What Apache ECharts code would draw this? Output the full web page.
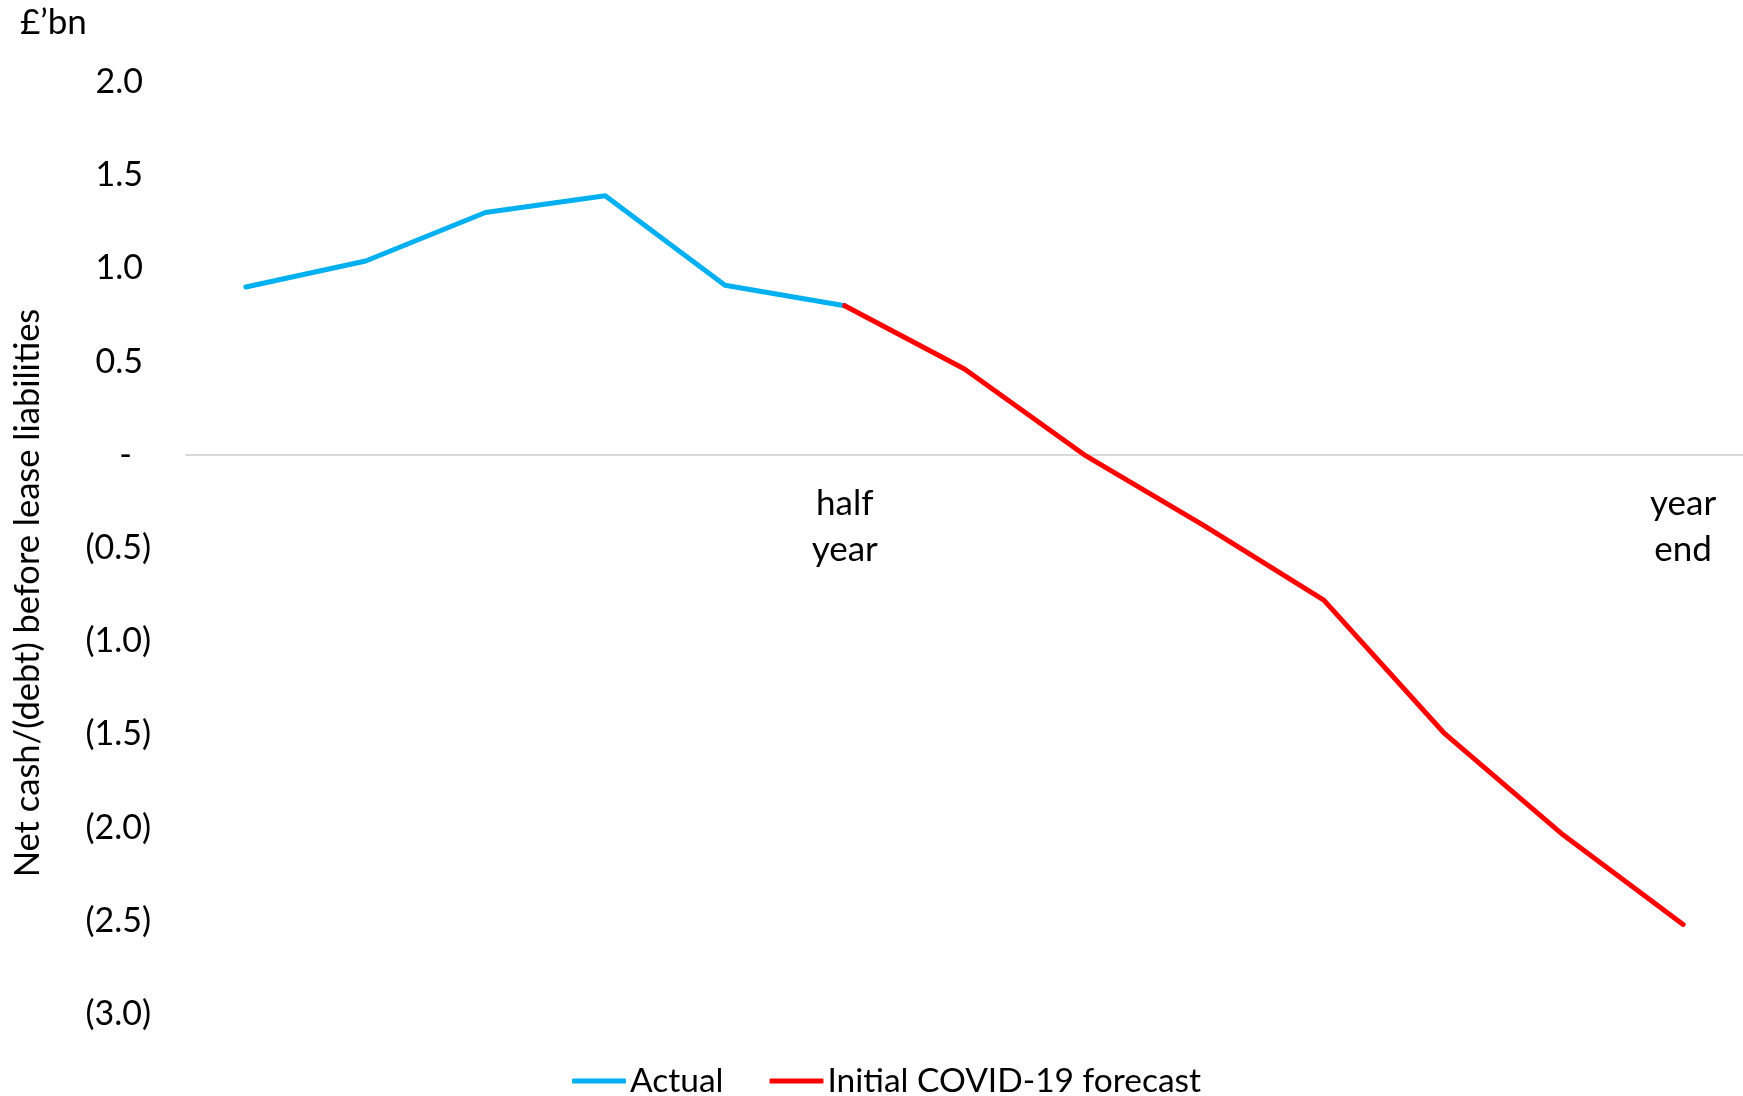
<!DOCTYPE html>
<html>
<head>
<meta charset="utf-8">
<title>Net cash/(debt) before lease liabilities</title>
<script src="https://cdn.jsdelivr.net/npm/echarts@6/dist/echarts.min.js"></script>
<style>
  html, body { margin: 0; padding: 0; background: #ffffff; }
  #chart { width: 1743px; height: 1096px; }
</style>
</head>
<body>
<div id="chart"></div>
<script>
// Period labels along the x axis (only two are shown)
const categories = ['', '', '', '', '', 'half\nyear', '', '', '', '', '', '', 'year\nend'];

// Net cash/(debt), £bn
const actualValues   = [0.90, 1.04, 1.30, 1.39, 0.91, 0.80, null, null, null, null, null, null, null];
const forecastValues = [null, null, null, null, null, 0.80, 0.46, 0.00, -0.38, -0.78, -1.49, -2.04, -2.52];

// Y-axis tick text, keyed by tick value
const yTickValues = [2.0, 1.5, 1.0, 0.5, 0, -0.5, -1.0, -1.5, -2.0, -2.5, -3.0];
const yTickLabels = ['2.0', '1.5', '1.0', '0.5', '-', '(0.5)', '(1.0)', '(1.5)', '(2.0)', '(2.5)', '(3.0)'];

const seriesNames = ['Actual', 'Initial COVID-19 forecast'];
const FONT = 'Lato, "Open Sans", sans-serif';

const Y_MIN = -3, Y_MAX = 2;
const GRID_TOP = 82, GRID_BOTTOM = 82, CHART_H = 1096;

function yLabel(v) {
  const i = yTickValues.findIndex(t => Math.abs(t - v) < 1e-9);
  const txt = i >= 0 ? yTickLabels[i] : '';
  if (Math.abs(v) < 1e-9) return '{zero|' + txt + '}';
  if (v > 0) return '{pos|' + txt + '}';
  return '{neg|' + txt + '}';
}

// The category axis sits on the zero line: shift it up from the grid bottom
const plotH = CHART_H - GRID_TOP - GRID_BOTTOM;
const zeroFromBottom = plotH * (0 - Y_MIN) / (Y_MAX - Y_MIN);

const chart = echarts.init(document.getElementById('chart'), null, { renderer: 'canvas' });
chart.setOption({
  backgroundColor: '#ffffff',
  animation: false,
  textStyle: { fontFamily: FONT, color: '#000000' },
  grid: {
    left: 186, right: 0, top: GRID_TOP, bottom: GRID_BOTTOM,
    containLabel: false,
    outerBoundsMode: 'none'
  },
  xAxis: {
    type: 'category',
    data: categories,
    boundaryGap: true,
    offset: -zeroFromBottom,
    axisLine: { onZero: false, lineStyle: { color: '#d9d9d9', width: 2 } },
    axisTick: { show: false },
    axisLabel: {
      interval: 0,
      margin: 26,
      fontFamily: FONT,
      fontSize: 35,
      lineHeight: 46,
      color: '#000000'
    },
    splitLine: { show: false }
  },
  yAxis: {
    type: 'value',
    min: Y_MIN,
    max: Y_MAX,
    interval: 0.5,
    axisLine: { show: false },
    axisTick: { show: false },
    splitLine: { show: false },
    axisLabel: {
      margin: 35,
      formatter: yLabel,
      rich: {
        pos:  { fontFamily: FONT, fontSize: 34, color: '#000000', padding: [0, 8, 0, 0] },
        zero: { fontFamily: FONT, fontSize: 34, color: '#000000', padding: [0, 19, 0, 0] },
        neg:  { fontFamily: FONT, fontSize: 34, color: '#000000' }
      }
    }
  },
  legend: {
    left: 572,
    top: 1064,
    padding: 0,
    itemWidth: 54,
    itemHeight: 5,
    itemGap: 46,
    icon: 'roundRect',
    textStyle: { fontFamily: FONT, fontSize: 33.5, color: '#000000', padding: [0, 0, 0, -1] },
    data: seriesNames
  },
  graphic: [
    {
      type: 'text',
      left: 20,
      top: 5,
      style: { text: '£’bn', fontFamily: FONT, fontSize: 35, fill: '#000000' }
    },
    {
      type: 'text',
      x: 28,
      y: 593,
      rotation: Math.PI / 2,
      style: {
        text: 'Net cash/(debt) before lease liabilities',
        fontFamily: FONT,
        fontSize: 34.5,
        fill: '#000000',
        align: 'center',
        verticalAlign: 'middle'
      }
    }
  ],
  series: [
    {
      name: seriesNames[0],
      type: 'line',
      data: actualValues,
      symbol: 'none',
      connectNulls: false,
      lineStyle: { color: '#00B0F0', width: 5, cap: 'round', join: 'round' },
      itemStyle: { color: '#00B0F0' },
      z: 2
    },
    {
      name: seriesNames[1],
      type: 'line',
      data: forecastValues,
      symbol: 'none',
      connectNulls: false,
      lineStyle: { color: '#FF0000', width: 5, cap: 'round', join: 'round' },
      itemStyle: { color: '#FF0000' },
      z: 3
    }
  ]
});
</script>
</body>
</html>
